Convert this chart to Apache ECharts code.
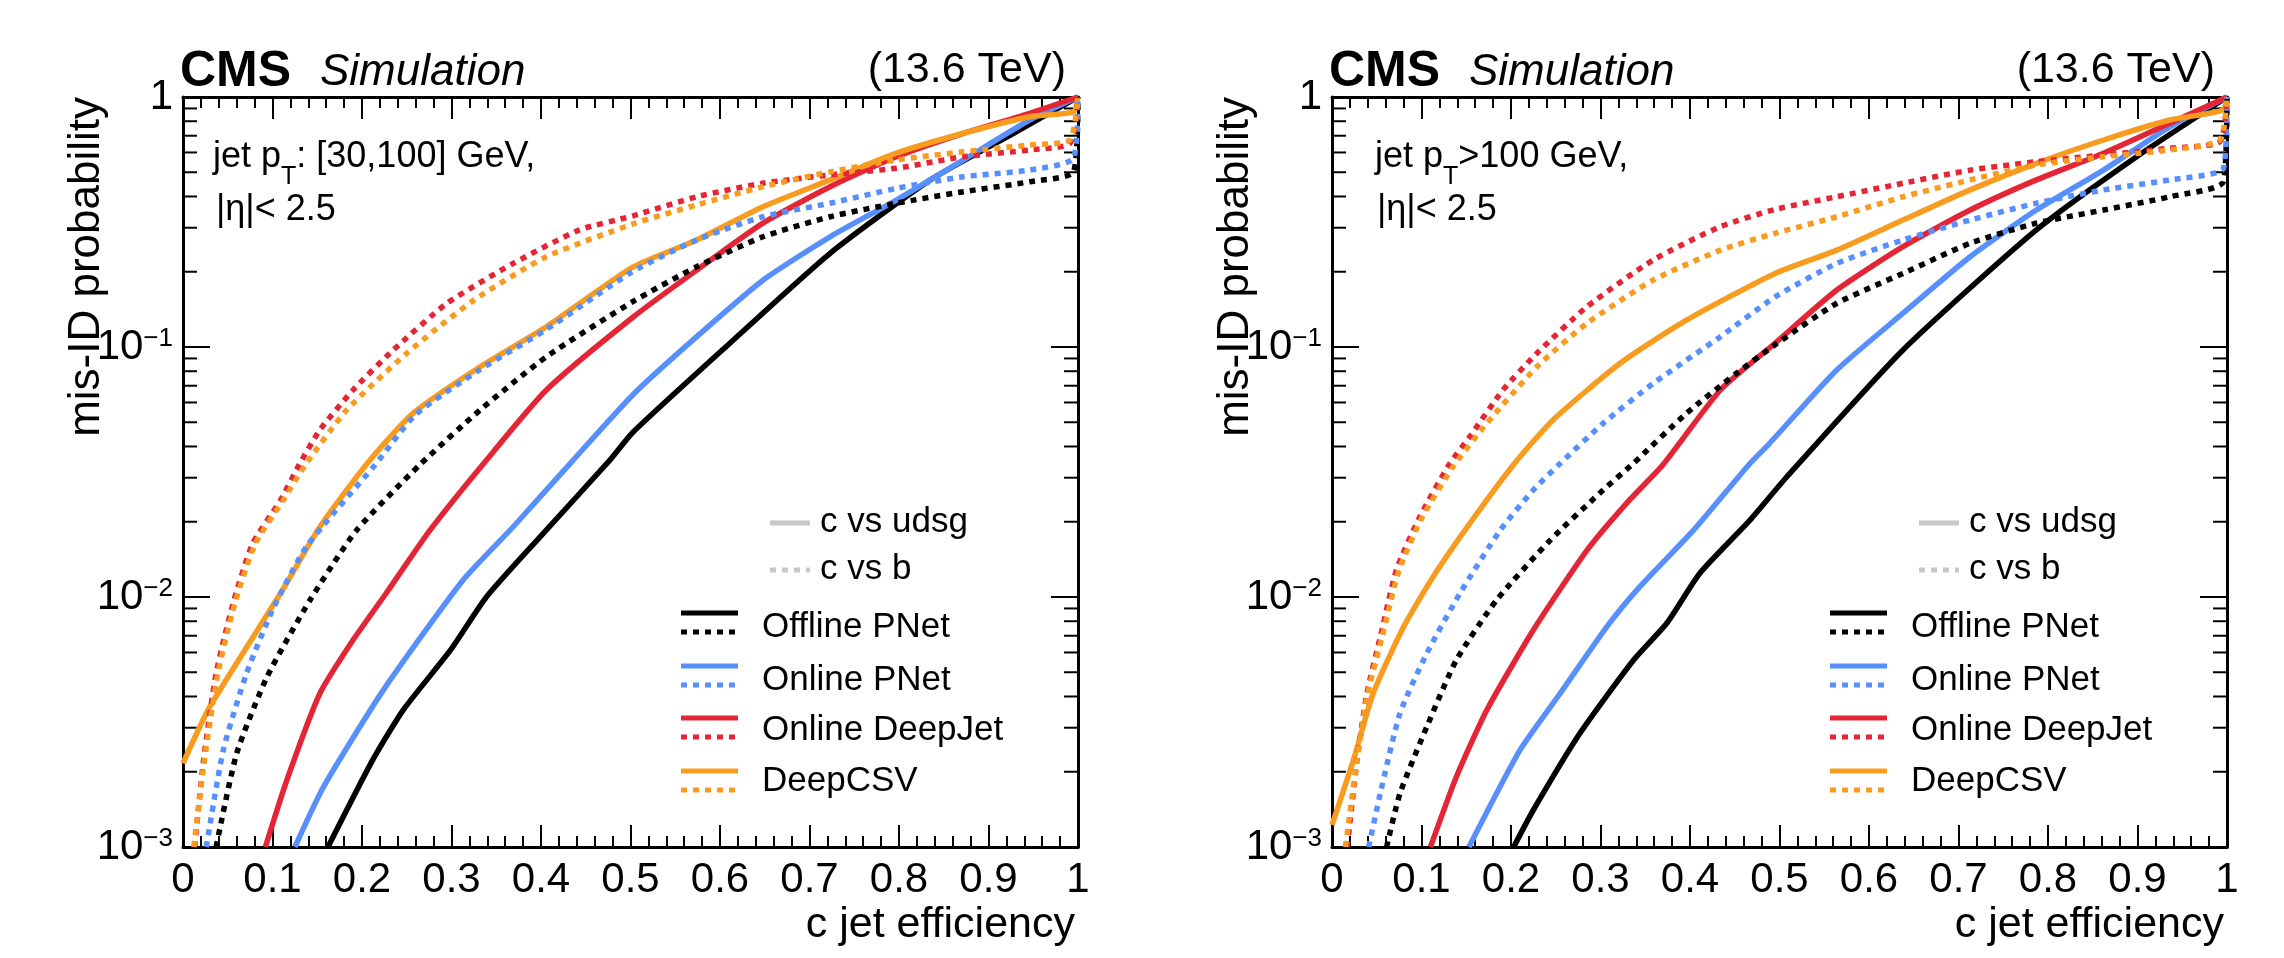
<!DOCTYPE html>
<html>
<head>
<meta charset="utf-8">
<script src="https://cdn.jsdelivr.net/npm/echarts@6/dist/echarts.min.js"></script>
<style>
html, body { margin: 0; padding: 0; background: #fff; }
#chart { width: 2284px; height: 958px; }
</style>
</head>
<body>
<div id="chart"></div>
<script>
// ---- data: [c jet efficiency, mis-ID probability] ----
// jet pT in [30,100] GeV, c vs udsg (solid)
var lowOfflineUdsg = [[0.162,0.001],[0.212,0.00223],[0.246,0.00353],[0.299,0.00614],[0.339,0.01],[0.399,0.0174],[0.477,0.0353],[0.503,0.0457],[0.611,0.1035],[0.723,0.237],[0.835,0.466],[0.928,0.716],[1,1]];
var lowOnlinePNetUdsg = [[0.125,0.001],[0.157,0.00174],[0.224,0.00425],[0.313,0.0117],[0.369,0.0191],[0.436,0.0353],[0.503,0.0646],[0.574,0.110],[0.648,0.185],[0.723,0.276],[0.797,0.387],[0.872,0.560],[0.946,0.809],[1,1]];
var lowDeepJetUdsg = [[0.092,0.001],[0.116,0.00185],[0.153,0.00412],[0.190,0.00673],[0.227,0.01035],[0.276,0.0185],[0.335,0.0339],[0.406,0.0673],[0.503,0.1318],[0.574,0.203],[0.648,0.313],[0.723,0.4375],[0.797,0.577],[0.872,0.716],[0.946,0.861],[1,1]];
var lowDeepCSVUdsg = [[0,0.00216],[0.03,0.00364],[0.109,0.01035],[0.153,0.0191],[0.206,0.0343],[0.257,0.0543],[0.332,0.0834],[0.406,0.1205],[0.503,0.209],[0.574,0.268],[0.648,0.364],[0.723,0.466],[0.797,0.596],[0.872,0.716],[0.946,0.834],[0.995,0.873],[1,1]];
// jet pT in [30,100] GeV, c vs b (dotted)
var lowOfflineB = [[0.037,0.001],[0.06,0.00237],[0.094,0.0048],[0.142,0.00973],[0.194,0.0185],[0.265,0.0339],[0.332,0.056],[0.406,0.0914],[0.502,0.1514],[0.574,0.2094],[0.648,0.276],[0.723,0.332],[0.797,0.376],[0.872,0.418],[0.946,0.458],[0.995,0.502],[1,1]];
var lowOnlinePNetB = [[0.026,0.001],[0.045,0.00244],[0.071,0.00495],[0.1,0.00887],[0.138,0.0159],[0.215,0.0339],[0.26,0.0537],[0.332,0.0813],[0.406,0.1175],[0.502,0.2],[0.574,0.268],[0.648,0.332],[0.723,0.376],[0.797,0.431],[0.872,0.48],[0.946,0.51],[0.995,0.569],[1,1]];
var lowDeepJetB = [[0.013,0.001],[0.023,0.00223],[0.037,0.00495],[0.056,0.00944],[0.078,0.0164],[0.109,0.0244],[0.13,0.0339],[0.153,0.0466],[0.19,0.0673],[0.235,0.0973],[0.295,0.1496],[0.369,0.216],[0.443,0.294],[0.502,0.334],[0.574,0.399],[0.648,0.452],[0.723,0.488],[0.797,0.519],[0.872,0.577],[0.946,0.614],[0.991,0.653],[1,1]];
var lowDeepCSVB = [[0.012,0.001],[0.024,0.00223],[0.039,0.00495],[0.058,0.00944],[0.081,0.0164],[0.112,0.0244],[0.137,0.0339],[0.183,0.056],[0.25,0.0944],[0.325,0.154],[0.406,0.2296],[0.502,0.31],[0.574,0.37],[0.648,0.4375],[0.723,0.502],[0.797,0.56],[0.872,0.604],[0.946,0.643],[0.991,0.673],[1,1]];

// jet pT > 100 GeV, c vs udsg (solid)
var highOfflineUdsg = [[0.203,0.001],[0.225,0.001406],[0.277,0.00285],[0.337,0.0056],[0.374,0.00785],[0.411,0.01245],[0.467,0.0203],[0.508,0.0302],[0.638,0.0973],[0.787,0.294],[0.899,0.577],[1,1]];
var highOnlinePNetUdsg = [[0.153,0.001],[0.21,0.00244],[0.255,0.00412],[0.307,0.0076],[0.344,0.011],[0.404,0.0185],[0.466,0.0339],[0.489,0.0412],[0.564,0.0809],[0.638,0.1365],[0.713,0.2296],[0.787,0.353],[0.862,0.51],[0.936,0.76],[1,1]];
var highDeepJetUdsg = [[0.11,0.001],[0.139,0.00191],[0.173,0.00353],[0.225,0.00738],[0.285,0.0154],[0.329,0.0237],[0.37,0.0339],[0.434,0.0673],[0.495,0.1035],[0.564,0.169],[0.638,0.252],[0.713,0.353],[0.787,0.466],[0.862,0.596],[0.936,0.785],[1,1]];
var highDeepCSVUdsg = [[0,0.001225],[0.024,0.00223],[0.046,0.00412],[0.08,0.0076],[0.113,0.01205],[0.154,0.0197],[0.203,0.0339],[0.247,0.0511],[0.322,0.0861],[0.396,0.128],[0.495,0.197],[0.564,0.244],[0.638,0.322],[0.713,0.425],[0.787,0.543],[0.862,0.673],[0.936,0.809],[0.996,0.887],[1,1]];
// jet pT > 100 GeV, c vs b (dotted)
var highOfflineB = [[0.061,0.001],[0.076,0.00164],[0.106,0.00303],[0.139,0.0056],[0.184,0.00973],[0.244,0.0169],[0.303,0.0268],[0.337,0.0343],[0.396,0.0543],[0.452,0.0785],[0.495,0.102],[0.564,0.1496],[0.638,0.197],[0.713,0.26],[0.787,0.313],[0.862,0.353],[0.936,0.399],[0.996,0.458],[1,1]];
var highOnlinePNetB = [[0.041,0.001],[0.054,0.00164],[0.076,0.00343],[0.106,0.00596],[0.143,0.01035],[0.188,0.0185],[0.225,0.0268],[0.253,0.0337],[0.303,0.0495],[0.359,0.0716],[0.434,0.11],[0.495,0.1585],[0.564,0.216],[0.638,0.268],[0.713,0.322],[0.787,0.376],[0.862,0.425],[0.936,0.466],[0.996,0.519],[1,1]];
var highDeepJetB = [[0.017,0.001],[0.028,0.00223],[0.039,0.00412],[0.054,0.00693],[0.072,0.01282],[0.098,0.0209],[0.131,0.0339],[0.154,0.0438],[0.191,0.0673],[0.229,0.0944],[0.285,0.145],[0.359,0.223],[0.434,0.303],[0.495,0.355],[0.564,0.399],[0.638,0.452],[0.713,0.51],[0.787,0.551],[0.862,0.586],[0.936,0.624],[0.992,0.662],[1,1]];
var highDeepCSVB = [[0.015,0.001],[0.028,0.00223],[0.04,0.00412],[0.056,0.00693],[0.075,0.01282],[0.101,0.0209],[0.135,0.0331],[0.173,0.0495],[0.229,0.0834],[0.285,0.1245],[0.359,0.1854],[0.434,0.244],[0.495,0.285],[0.564,0.332],[0.638,0.399],[0.713,0.466],[0.787,0.535],[0.862,0.577],[0.936,0.614],[0.992,0.673],[1,1]];

var taggers = ["Offline PNet", "Online PNet", "Online DeepJet", "DeepCSV"];
var taggerColors = ["#000000", "#5790fc", "#e42536", "#f89c20"];
var logMinorTicks = [0.002,0.003,0.004,0.005,0.006,0.007,0.008,0.009,
                     0.02,0.03,0.04,0.05,0.06,0.07,0.08,0.09,
                     0.2,0.3,0.4,0.5,0.6,0.7,0.8,0.9];

var panels = [
    {
        udsg: [lowOfflineUdsg, lowOnlinePNetUdsg, lowDeepJetUdsg, lowDeepCSVUdsg],
        b: [lowOfflineB, lowOnlinePNetB, lowDeepJetB, lowDeepCSVB],
        ptLabel: "jet p{sub|T}: [30,100] GeV,", textX: 213, etaX: 216
    },
    {
        udsg: [highOfflineUdsg, highOnlinePNetUdsg, highDeepJetUdsg, highDeepCSVUdsg],
        b: [highOfflineB, highOnlinePNetB, highDeepJetB, highDeepCSVB],
        ptLabel: "jet p{sub|T}>100 GeV,", textX: 1375, etaX: 1377
    }
];

// ---- layout ----
var FONT = '"Liberation Sans", Arial, Helvetica, sans-serif';
var gridLeft = [183, 1332], gridTop = 97, gridW = 895, gridH = 750;
var DOT = [6, 6];

var chart = echarts.init(document.getElementById("chart"));

function decadeLabel(v) {
    var e = Math.round(Math.log(v) / Math.LN10);
    return e === 0 ? "1" : "10{sup|\u2212" + (-e) + "}";
}

function txt(x, y, text, size, opts) {
    opts = opts || {};
    var style = {
        x: 0, y: 0, text: text, fill: opts.fill || "#000",
        font: (opts.style || "normal") + " " + (opts.weight || "normal") + " " + size + "px " + FONT,
        textAlign: opts.align || "left", align: opts.align || "left",
        textVerticalAlign: "middle", verticalAlign: "middle"
    };
    if (opts.rich) style.rich = opts.rich;
    if (opts.lineHeight) style.lineHeight = opts.lineHeight;
    return {type: "text", x: x, y: y, rotation: opts.rotation || 0, silent: true, style: style};
}

function hline(x1, x2, y, color, dashed) {
    return {
        type: "line", silent: true,
        shape: {x1: x1, y1: y, x2: x2, y2: y},
        style: {stroke: color, lineWidth: 5, lineDash: dashed ? DOT : null, lineCap: "butt"}
    };
}

var grids = [], xAxes = [], yAxes = [], series = [], graphics = [];

panels.forEach(function (p, g) {
    var L = gridLeft[g];
    grids.push({left: L, top: gridTop, width: gridW, height: gridH, containLabel: false, outerBoundsMode: "none"});

    var axLine = {onZero: false, lineStyle: {color: "#000", width: 3}};
    ["bottom", "top"].forEach(function (pos) {
        xAxes.push({
            type: "value", gridIndex: g, position: pos, min: 0, max: 1, interval: 0.1,
            axisLine: axLine, splitLine: {show: false},
            axisTick: {inside: true, length: 22, lineStyle: {color: "#000", width: 2}},
            minorTick: {show: true, splitNumber: 5, length: 11, lineStyle: {color: "#000", width: 2}},
            axisLabel: {show: pos === "bottom", color: "#000", fontSize: 42, fontFamily: FONT, margin: 12}
        });
    });
    ["left", "right"].forEach(function (pos) {
        yAxes.push({
            type: "log", logBase: 10, gridIndex: g, position: pos, min: 0.001, max: 1,
            axisLine: axLine, splitLine: {show: false},
            axisTick: {inside: true, length: 27, lineStyle: {color: "#000", width: 2}},
            minorTick: {show: false},
            axisLabel: {
                show: pos === "left", color: "#000", fontSize: 42, fontFamily: FONT, margin: 10,
                lineHeight: 42, formatter: decadeLabel,
                rich: {sup: {fontSize: 26, lineHeight: 26, verticalAlign: "top", color: "#000", fontFamily: FONT}}
            }
        });
    });

    // c vs udsg solid, then c vs b dotted
    [p.udsg, p.b].forEach(function (set, k) {
        set.forEach(function (pts, i) {
            series.push({
                type: "line", name: taggers[i] + (k ? " c vs b" : " c vs udsg"),
                xAxisIndex: 2 * g, yAxisIndex: 2 * g, data: pts,
                showSymbol: false, symbol: "none", smooth: 0.2, silent: true,
                lineStyle: {color: taggerColors[i], width: 5.5, type: k ? DOT : "solid", cap: "butt", join: "round"}
            });
        });
    });

    // log-axis minor ticks (2..9 per decade) on left and right frame
    series.push({
        type: "custom", xAxisIndex: 2 * g, yAxisIndex: 2 * g, silent: true, clip: false,
        data: logMinorTicks.map(function (v) { return [0, v]; }),
        renderItem: function (params, api) {
            var v = api.value(1), l = api.coord([0, v]), r = api.coord([1, v]);
            var st = {stroke: "#000", lineWidth: 2};
            return {type: "group", children: [
                {type: "line", shape: {x1: l[0], y1: l[1], x2: l[0] + 14, y2: l[1]}, style: st},
                {type: "line", shape: {x1: r[0], y1: r[1], x2: r[0] - 14, y2: r[1]}, style: st}
            ]};
        }
    });

    // header and labels
    graphics.push(txt(L - 3, 72, "CMS", 50, {weight: "bold"}));
    graphics.push(txt(L + 137, 73, "Simulation", 44, {style: "italic"}));
    graphics.push(txt(L + 883, 70, "(13.6 TeV)", 43, {align: "right"}));
    graphics.push(txt(L - 96, gridTop, "mis-ID probability", 44, {align: "right", rotation: Math.PI / 2}));
    graphics.push(txt(L + 892, 925, "c jet efficiency", 43, {align: "right"}));
    graphics.push(txt(p.textX, 157, p.ptLabel, 36, {
        lineHeight: 66,
        rich: {sub: {fontSize: 25, lineHeight: 25, verticalAlign: "bottom", fill: "#000", fontFamily: FONT}}
    }));
    graphics.push(txt(p.etaX, 210, "|\u03b7|< 2.5", 36));

    // legend
    graphics.push(hline(L + 587, L + 627, 523, "#c8c8c8", false));
    graphics.push(txt(L + 637, 522, "c vs udsg", 35));
    graphics.push(hline(L + 587, L + 627, 570, "#c8c8c8", true));
    graphics.push(txt(L + 637, 569, "c vs b", 35));
    var solidY = [613, 666, 718, 771], textY = [627, 680, 730, 781];
    taggers.forEach(function (name, i) {
        graphics.push(hline(L + 498, L + 555, solidY[i], taggerColors[i], false));
        graphics.push(hline(L + 498, L + 555, solidY[i] + 19, taggerColors[i], true));
        graphics.push(txt(L + 579, textY[i], name, 35));
    });
});

chart.setOption({
    animation: false,
    backgroundColor: "#fff",
    textStyle: {fontFamily: FONT},
    grid: grids,
    xAxis: xAxes,
    yAxis: yAxes,
    series: series,
    graphic: {elements: graphics}
});
window.addEventListener("resize", function () { chart.resize(); });
</script>
</body>
</html>
